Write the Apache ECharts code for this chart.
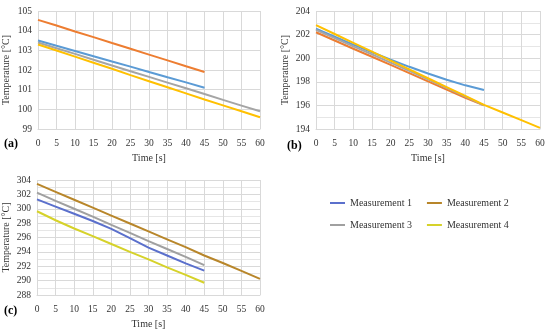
<!DOCTYPE html>
<html><head><meta charset="utf-8">
<script src="https://cdn.jsdelivr.net/npm/echarts@6/dist/echarts.min.js"></script>
<style>html,body{margin:0;padding:0;background:#fff}#c{width:550px;height:330px}</style>
</head><body><div id="c"></div>
<script>
var time45 = [0,5,10,15,20,25,30,35,40,45];
var time60 = [0,5,10,15,20,25,30,35,40,45,50,55,60];
var legendNames = ['Measurement 1','Measurement 2','Measurement 3','Measurement 4'];

// Panel (a)
var a_m1 = [103.5,103.23,102.97,102.7,102.43,102.17,101.9,101.63,101.37,101.1];
var a_m2 = [104.55,104.26,103.96,103.67,103.37,103.08,102.78,102.49,102.19,101.9];
var a_m3 = [103.4,103.11,102.82,102.52,102.23,101.94,101.65,101.36,101.07,100.78,100.48,100.19,99.9];
var a_m4 = [103.3,102.99,102.68,102.37,102.06,101.74,101.43,101.12,100.81,100.5,100.2,99.9,99.6];
// Panel (b)
var b_m1 = [202.5,201.82,201.15,200.5,199.87,199.27,198.7,198.17,197.7,197.3];
var b_m2 = [202.2,201.5,200.8,200.12,199.43,198.73,198.03,197.33,196.65,196.0];
var b_m3 = [202.4,201.7,201.0,200.33,199.63,198.93,198.2,197.48,196.75,196.0];
var b_m4 = [202.8,202.05,201.3,200.55,199.8,199.05,198.3,197.55,196.8,196.05,195.4,194.75,194.1];
// Panel (c)
var c_m1 = [301.3,300.3,299.3,298.3,297.2,295.9,294.6,293.5,292.4,291.4];
var c_m2 = [303.45,302.35,301.25,300.15,299.05,297.95,296.85,295.75,294.65,293.5,292.45,291.35,290.25];
var c_m3 = [302.25,301.1,300.0,298.9,297.75,296.65,295.5,294.4,293.3,292.15];
var c_m4 = [299.65,298.4,297.25,296.2,295.1,294.0,292.95,291.85,290.8,289.7];

var excelColors = ['#5B9BD5','#ED7D31','#A5A5A5','#FFC000'];
var cColors = ['#5B70CC','#B8862A','#A0A0A0','#D6D22A'];

function pairs(t, v){ return v.map(function(y,i){ return [t[i], y]; }); }

var FONT = 'Liberation Serif';
var TXT = '#333333';
function xAx(gi){
  return {type:'value', gridIndex:gi, min:0, max:60, interval:5,
    name:'Time [s]', nameLocation:'middle', nameGap:24,
    nameTextStyle:{fontFamily:FONT,fontSize:10,color:TXT},
    axisLine:{show:true,lineStyle:{color:'#D9D9D9'}}, axisTick:{show:false},
    axisLabel:{fontFamily:FONT,fontSize:9.5,color:TXT,margin:9},
    splitLine:{show:true,lineStyle:{color:'#D9D9D9',width:1}}};
}
function yAx(gi,min,max,interval,minor){
  return {type:'value', gridIndex:gi, min:min, max:max, interval:interval,
    name:'Temperature [°C]', nameLocation:'middle', nameGap:minor?26:27, nameRotate:90,
    nameTextStyle:{fontFamily:FONT,fontSize:10,color:TXT},
    axisLine:{show:false}, axisTick:{show:false},
    axisLabel:{fontFamily:FONT,fontSize:9.5,color:TXT,margin:6},
    splitLine:{show:true,lineStyle:{color:'#D9D9D9',width:1}},
    minorTick:{show:false, splitNumber:2},
    minorSplitLine:{show:!!minor,lineStyle:{color:'#E6E6E6',width:1}}};
}
function ser(name, xi, t, v, color){
  return {name:name, type:'line', xAxisIndex:xi, yAxisIndex:xi, data:pairs(t,v),
    symbol:'none', smooth:false, lineStyle:{color:color,width:2}, itemStyle:{color:color}, z:3};
}

var option = {
  animation:false,
  grid:[
    {left:36, top:11, width:224, height:118},
    {left:316, top:11, width:224, height:118},
    {left:36, top:180, width:224, height:117}
  ],
  xAxis:[xAx(0),xAx(1),xAx(2)],
  yAxis:[yAx(0,99,105,1,false), yAx(1,194,204,2,true), yAx(2,288,304,2,true)],
  legend:[
    {data:[legendNames[0],legendNames[1]], left:325, top:193, itemWidth:15, itemHeight:2, icon:'rect', itemGap:15,
     textStyle:{fontFamily:FONT,fontSize:10,color:TXT,width:64}},
    {data:[legendNames[2],legendNames[3]], left:325, top:215, itemWidth:15, itemHeight:2, icon:'rect', itemGap:15,
     textStyle:{fontFamily:FONT,fontSize:10,color:TXT,width:64}}
  ],
  graphic:[
    {type:'text', left:4, top:138, style:{text:'(a)', font:'bold 12px "Liberation Serif"', fill:'#000'}},
    {type:'text', left:287, top:140, style:{text:'(b)', font:'bold 12px "Liberation Serif"', fill:'#000'}},
    {type:'text', left:4, top:305, style:{text:'(c)', font:'bold 12px "Liberation Serif"', fill:'#000'}}
  ],
  series:[
    ser(legendNames[0],2,time45,c_m1,cColors[0]),
    ser(legendNames[1],2,time60,c_m2,cColors[1]),
    ser(legendNames[2],2,time45,c_m3,cColors[2]),
    ser(legendNames[3],2,time45,c_m4,cColors[3]),
    ser('a1',0,time45,a_m1,excelColors[0]),
    ser('a2',0,time45,a_m2,excelColors[1]),
    ser('a3',0,time60,a_m3,excelColors[2]),
    ser('a4',0,time60,a_m4,excelColors[3]),
    ser('b1',1,time45,b_m1,excelColors[0]),
    ser('b2',1,time45,b_m2,excelColors[1]),
    ser('b3',1,time45,b_m3,excelColors[2]),
    ser('b4',1,time60,b_m4,excelColors[3])
  ]
};
echarts.init(document.getElementById('c')).setOption(option);
</script></body></html>
